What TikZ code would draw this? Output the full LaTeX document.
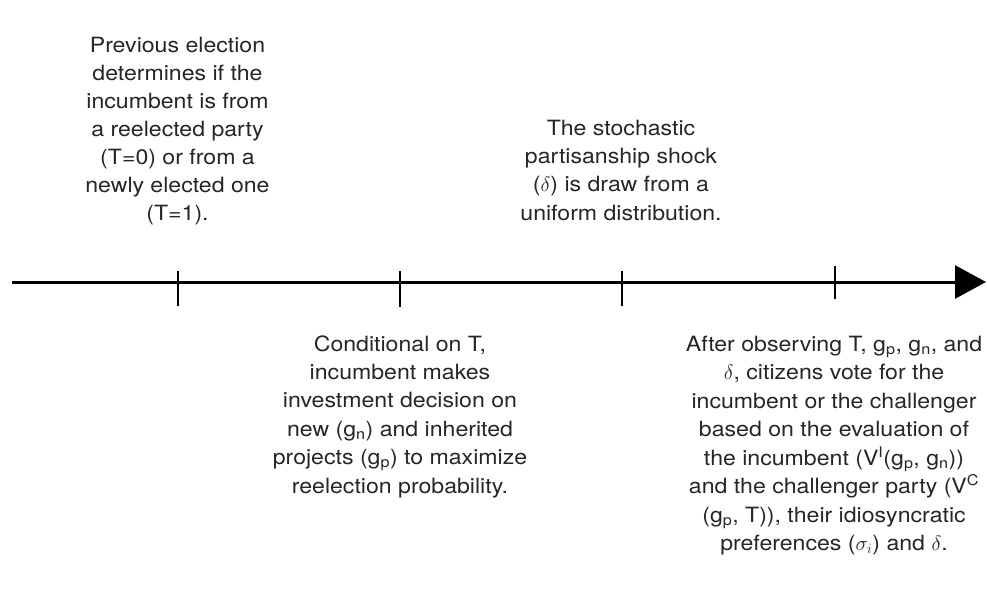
\documentclass[tikz,border=0pt]{standalone}
\usepackage{fontspec}
\setmainfont{TeX Gyre Heros}[FakeStretch=1.1]
\usetikzlibrary{arrows.meta}
\tikzset{
  txt/.style={inner sep=0pt, anchor=base, text=black!85},
  axisline/.style={line width=3pt, -{Triangle[length=31pt,width=33pt]}},
  tickline/.style={line width=2pt}
}
\begin{document}
\begin{tikzpicture}[x=1pt,y=-1pt]
\useasboundingbox[fill=white] (0,0) rectangle (987,599);
% axis
\coordinate (axl) at (12,282);
\coordinate (axr) at (986,282);
\draw[axisline] (axl) -- (axr);
% ticks
\coordinate (t1a) at (177.5,271); \coordinate (t1b) at (177.5,306);
\coordinate (t2a) at (399.5,271); \coordinate (t2b) at (399.5,307);
\coordinate (t3a) at (621.5,271); \coordinate (t3b) at (621.5,306);
\coordinate (t4a) at (835,266);   \coordinate (t4b) at (835,299);
\draw[tickline] (t1a) -- (t1b);
\draw[tickline] (t2a) -- (t2b);
\draw[tickline] (t3a) -- (t3b);
\draw[tickline] (t4a) -- (t4b);
% texts
\node[txt, font={\fontsize{21}{27.9}\selectfont}] (prev) at (177.5,220)
  {\begin{tabular}[b]{@{}c@{}}Previous election\\ determines if the\\ incumbent is from\\ a reelected party\\ (T=0) or from a\\ newly elected one\\ (T=1).\end{tabular}};
\node[txt, font={\fontsize{21}{28.3}\selectfont}] (shock) at (621,220)
  {\begin{tabular}[b]{@{}c@{}}The stochastic\\ partisanship shock\\ ($\delta$) is draw from a\\ uniform distribution.\end{tabular}};
\node[txt, font={\fontsize{21}{28.4}\selectfont}] (cond) at (400,351)
  {\begin{tabular}[t]{@{}c@{}}Conditional on T,\\ incumbent makes\\ investment decision on\\ new (g\textsubscript{n}) and inherited\\ projects (g\textsubscript{p}) to maximize\\ reelection probability.\end{tabular}};
\node[txt, font={\fontsize{21}{28.5}\selectfont}] (vote) at (834,351)
  {\begin{tabular}[t]{@{}c@{}}After observing T, g\textsubscript{p}, g\textsubscript{n}, and\\ $\delta$, citizens vote for the\\ incumbent or the challenger\\ based on the evaluation of\\ the incumbent (V\textsuperscript{I}(g\textsubscript{p}, g\textsubscript{n}))\\ and the challenger party (V\textsuperscript{C}\\ (g\textsubscript{p}, T)), their idiosyncratic\\ preferences ($\sigma_i$) and $\delta$.\end{tabular}};
\end{tikzpicture}
\end{document}
